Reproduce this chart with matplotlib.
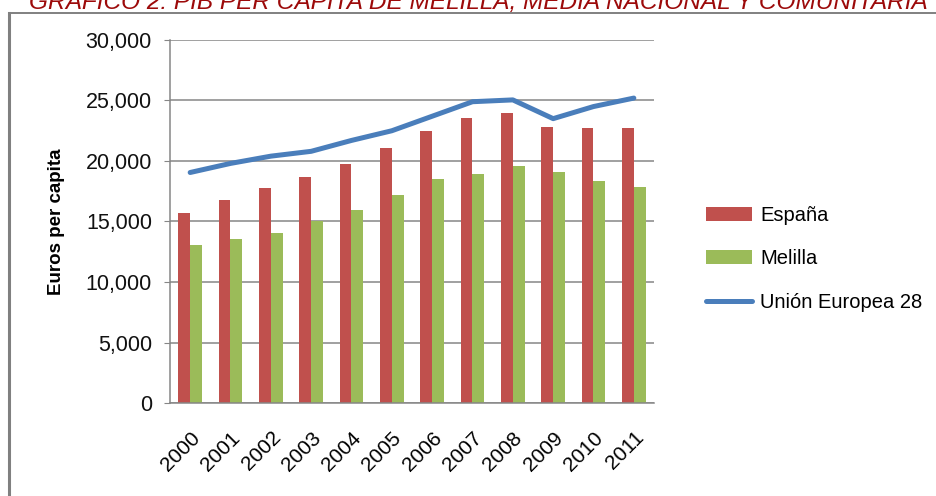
import matplotlib
matplotlib.use("Agg")
import matplotlib.pyplot as plt
import matplotlib.ticker as ticker
from matplotlib.lines import Line2D
import numpy as np

# data
years = ["2000", "2001", "2002", "2003", "2004", "2005",
         "2006", "2007", "2008", "2009", "2010", "2011"]
espana = [15700, 16800, 17800, 18700, 19750, 21100, 22500, 23550, 24000, 22800, 22700, 22700]
melilla = [13050, 13550, 14050, 15000, 15950, 17200, 18500, 18900, 19600, 19100, 18350, 17850]
ue28 = [19050, 19800, 20400, 20800, 21700, 22500, 23700, 24900, 25050, 23500, 24500, 25200]

plt.rcParams["font.family"] = ["Liberation Sans", "DejaVu Sans"]

fig = plt.figure(figsize=(9.37, 4.96), dpi=100)
ax = fig.add_axes([170 / 937, 1 - 403 / 496, (654 - 170) / 937, (403 - 40) / 496])

x = np.arange(len(years))
w = 0.29
b1 = ax.bar(x - w / 2, espana, w, color="#C0504D", label="España", zorder=2)
b2 = ax.bar(x + w / 2, melilla, w, color="#9BBB59", label="Melilla", zorder=2)
l1, = ax.plot(x, ue28, color="#4A7EBB", lw=3.6, label="Unión Europea 28", zorder=3,
              solid_capstyle="round")

ax.set_xlim(-0.5, len(years) - 0.5)
ax.set_ylim(0, 30000)
ax.yaxis.set_major_locator(ticker.MultipleLocator(5000))
ax.yaxis.set_major_formatter(ticker.FuncFormatter(lambda v, p: "{:,.0f}".format(v)))
ax.grid(axis="y", color="#868686", lw=1.1, zorder=0)
ax.set_axisbelow(True)

for s in ["top", "right"]:
    ax.spines[s].set_visible(False)
for s in ["left", "bottom"]:
    ax.spines[s].set_color("#868686")
    ax.spines[s].set_linewidth(1.1)

ax.tick_params(axis="y", length=4, color="#868686", labelsize=15.5, pad=9, labelcolor="#111111")
ax.tick_params(axis="x", length=0, labelsize=15, pad=18)
ax.set_xticks(x)
ax.set_xticklabels(years, rotation=45, ha="right", rotation_mode="anchor")

ax.set_ylabel("Euros per capita", fontsize=13.5, fontweight="bold", labelpad=15)

ax.legend([b1, b2, l1], ["España", "Melilla", "Unión Europea 28"],
          loc="center left", bbox_to_anchor=(1.07, 0.397), frameon=False, fontsize=14.5,
          handlelength=2.3, handletextpad=0.4, labelspacing=1.2)

# chart area border (left and top edges visible)
fig.add_artist(Line2D([9 / 937, 9 / 937], [0, 1 - 13 / 496], transform=fig.transFigure,
                      color="#808080", lw=2.2))
fig.add_artist(Line2D([9 / 937, 1], [1 - 13 / 496, 1 - 13 / 496], transform=fig.transFigure,
                      color="#808080", lw=1.4))

# title, cut off at the top of the picture as in the source
fig.text(478 / 937, 1 - 9 / 496, "GRÁFICO 2: PIB PER CÁPITA DE MELILLA, MEDIA NACIONAL Y COMUNITARIA",
         ha="center", va="baseline", fontsize=17.6, style="italic", color="#9C0A0A")

fig.savefig("out.png", dpi=100)
